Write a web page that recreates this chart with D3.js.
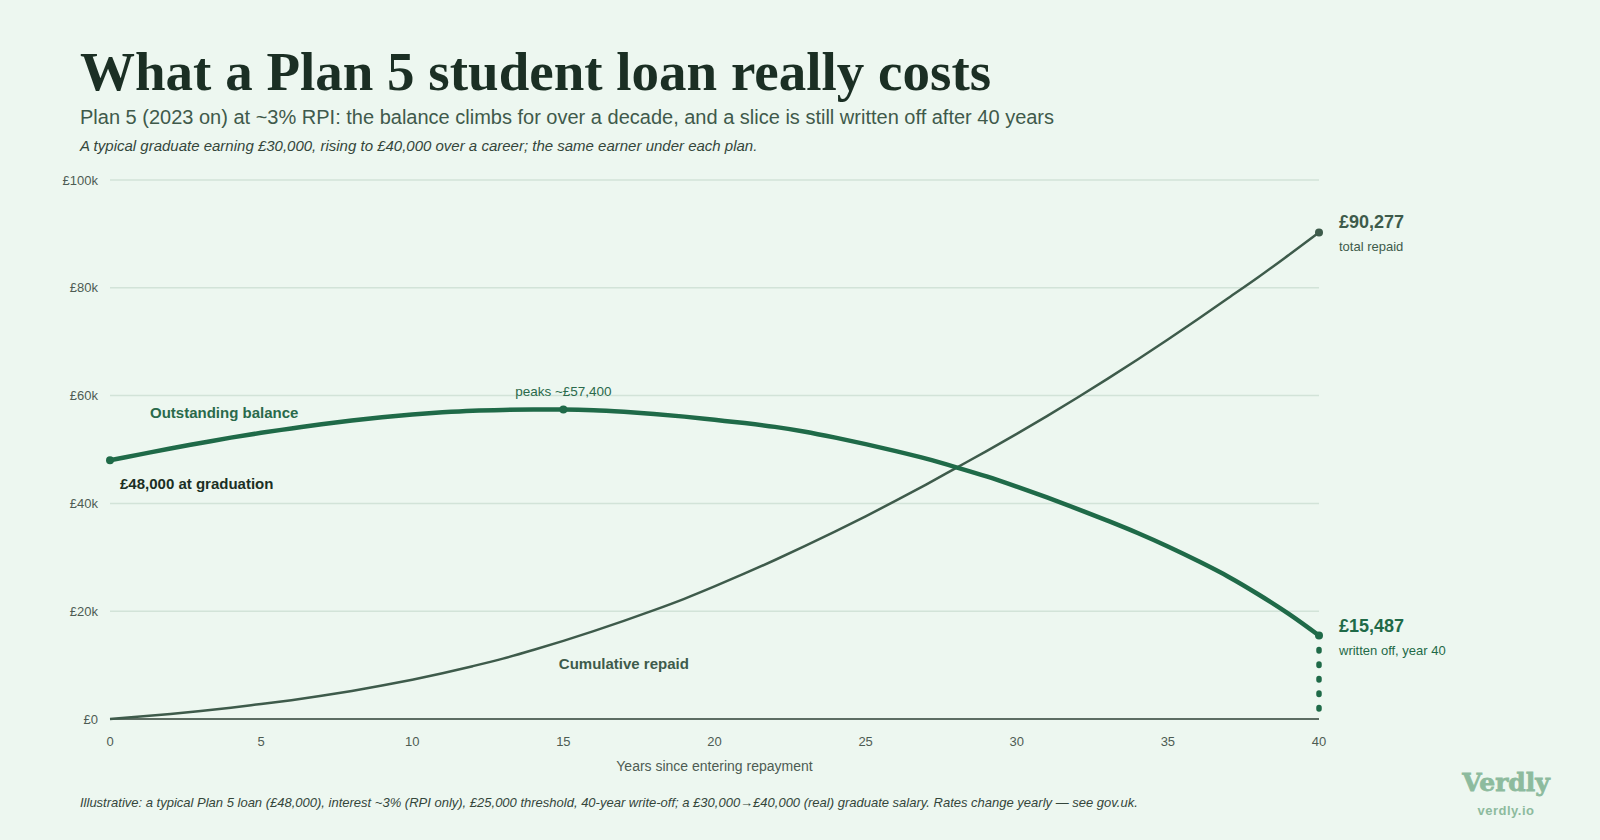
<!DOCTYPE html>
<html lang="en">
<head>
    <meta charset="UTF-8">
    <title>What a Plan 5 student loan really costs</title>
    <script src="https://d3js.org/d3.v7.min.js"></script>
    <style>
        body {
            margin: 0;
            background-color: #edf7f0;
        }
        svg text {
            font-family: "Liberation Sans", Arial, sans-serif;
        }
        .grid line {
            stroke: #d2e3d8;
            stroke-width: 1.5px;
        }
        .tick-label {
            font-size: 13px;
            fill: #4d5c53;
        }
    </style>
</head>
<body>
    <svg id="chart" width="1600" height="840"></svg>
    <script>
        // Years since entering repayment
        const years = d3.range(0, 41);

        // Outstanding balance (£k)
        const balance = [
            48.0, 49.1, 50.2, 51.2, 52.2, 53.1, 53.9, 54.7, 55.4, 56.0,
            56.5, 56.9, 57.2, 57.35, 57.4, 57.4, 57.3, 57.0, 56.6, 56.1,
            55.5, 54.9, 54.2, 53.3, 52.2, 51.0, 49.7, 48.3, 46.7, 45.0,
            43.1, 41.1, 39.0, 36.8, 34.5, 32.0, 29.3, 26.4, 23.1, 19.5,
            15.487
        ];

        // Cumulative repaid (£k)
        const repaid = [
            0, 0.45, 0.95, 1.5, 2.1, 2.8, 3.5, 4.3, 5.2, 6.2,
            7.3, 8.5, 9.8, 11.2, 12.8, 14.5, 16.3, 18.2, 20.2, 22.3,
            24.6, 27.0, 29.5, 32.1, 34.8, 37.6, 40.5, 43.5, 46.6, 49.7,
            52.9, 56.2, 59.6, 63.1, 66.7, 70.4, 74.2, 78.1, 82.0, 86.1,
            90.277
        ];

        const yTicks = [0, 20, 40, 60, 80, 100];
        const yTickLabels = ["£0", "£20k", "£40k", "£60k", "£80k", "£100k"];
        const xTicks = [0, 5, 10, 15, 20, 25, 30, 35, 40];

        const peakYear = 15;

        const width = 1600;
        const margin = { left: 110, right: 281, top: 180, bottom: 121 };
        const height = 840;

        const svg = d3.select("#chart");

        const x = d3.scaleLinear().domain([0, 40]).range([margin.left, width - margin.right]);
        const y = d3.scaleLinear().domain([0, 100]).range([height - margin.bottom, margin.top]);

        const ink = "#1b2f24";
        const green = "#1f6a48";
        const slate = "#3e5b4b";

        // Title block
        svg.append("text")
            .attr("x", 80).attr("y", 90)
            .style("font-family", "'Liberation Serif', 'DejaVu Serif', serif")
            .style("font-weight", "bold")
            .style("font-size", "55px")
            .style("fill", ink)
            .text("What a Plan 5 student loan really costs");

        svg.append("text")
            .attr("x", 80).attr("y", 124)
            .style("font-size", "20px")
            .style("fill", "#3f5a4b")
            .text("Plan 5 (2023 on) at ~3% RPI: the balance climbs for over a decade, and a slice is still written off after 40 years");

        svg.append("text")
            .attr("x", 80).attr("y", 151)
            .style("font-size", "15px")
            .style("font-style", "italic")
            .style("fill", "#34463b")
            .text("A typical graduate earning £30,000, rising to £40,000 over a career; the same earner under each plan.");

        // Gridlines
        const grid = svg.append("g").attr("class", "grid");
        grid.selectAll("line")
            .data(yTicks.filter(d => d > 0))
            .enter()
            .append("line")
            .attr("x1", x(0)).attr("x2", x(40))
            .attr("y1", d => y(d)).attr("y2", d => y(d));

        // Y axis labels
        svg.selectAll(".ylab")
            .data(yTicks)
            .enter()
            .append("text")
            .attr("class", "tick-label")
            .attr("x", x(0) - 12)
            .attr("y", d => y(d) + 4.5)
            .attr("text-anchor", "end")
            .text((d, i) => yTickLabels[i]);

        // Baseline
        svg.append("line")
            .attr("x1", x(0)).attr("x2", x(40))
            .attr("y1", y(0)).attr("y2", y(0))
            .attr("stroke", "#5d6d63")
            .attr("stroke-width", 2);

        // X axis labels
        svg.selectAll(".xlab")
            .data(xTicks)
            .enter()
            .append("text")
            .attr("class", "tick-label")
            .attr("x", d => x(d))
            .attr("y", y(0) + 27)
            .attr("text-anchor", "middle")
            .text(d => d);

        svg.append("text")
            .attr("x", (x(0) + x(40)) / 2)
            .attr("y", y(0) + 52)
            .attr("text-anchor", "middle")
            .style("font-size", "14px")
            .style("fill", "#4d5c53")
            .text("Years since entering repayment");

        const line = d3.line()
            .x(d => x(d[0]))
            .y(d => y(d[1]))
            .curve(d3.curveMonotoneX);

        const repaidPts = years.map((yr, i) => [yr, repaid[i]]);
        const balancePts = years.map((yr, i) => [yr, balance[i]]);

        // Write-off dotted drop
        svg.append("line")
            .attr("x1", x(40)).attr("x2", x(40))
            .attr("y1", y(balance[40]) + 14)
            .attr("y2", y(0) - 8)
            .attr("stroke", green)
            .attr("stroke-width", 5.5)
            .attr("stroke-linecap", "round")
            .attr("stroke-dasharray", "1.5 13");

        // Cumulative repaid line
        svg.append("path")
            .datum(repaidPts)
            .attr("d", line)
            .attr("fill", "none")
            .attr("stroke", slate)
            .attr("stroke-width", 2.5);

        // Outstanding balance line
        svg.append("path")
            .datum(balancePts)
            .attr("d", line)
            .attr("fill", "none")
            .attr("stroke", green)
            .attr("stroke-width", 4.5)
            .attr("stroke-linecap", "round");

        // Markers
        const markers = [
            { yr: 0, v: balance[0], c: green },
            { yr: peakYear, v: balance[peakYear], c: green },
            { yr: 40, v: balance[40], c: green },
            { yr: 40, v: repaid[40], c: slate }
        ];
        svg.selectAll(".marker")
            .data(markers)
            .enter()
            .append("circle")
            .attr("cx", d => x(d.yr))
            .attr("cy", d => y(d.v))
            .attr("r", 4)
            .attr("fill", d => d.c);

        // Annotations
        svg.append("text")
            .attr("x", x(0) + 40).attr("y", 418)
            .style("font-size", "15px").style("font-weight", "bold")
            .style("fill", "#2a6a4b")
            .text("Outstanding balance");

        svg.append("text")
            .attr("x", x(0) + 10).attr("y", 489)
            .style("font-size", "15px").style("font-weight", "bold")
            .style("fill", ink)
            .text("£48,000 at graduation");

        svg.append("text")
            .attr("x", x(peakYear)).attr("y", y(balance[peakYear]) - 14)
            .attr("text-anchor", "middle")
            .style("font-size", "13.5px")
            .style("fill", "#2a6a4b")
            .text("peaks ~£57,400");

        svg.append("text")
            .attr("x", x(17)).attr("y", 669)
            .attr("text-anchor", "middle")
            .style("font-size", "15px").style("font-weight", "bold")
            .style("fill", slate)
            .text("Cumulative repaid");

        // End labels
        svg.append("text")
            .attr("x", x(40) + 20).attr("y", y(repaid[40]) - 4)
            .style("font-size", "18px").style("font-weight", "bold")
            .style("fill", slate)
            .text("£90,277");
        svg.append("text")
            .attr("x", x(40) + 20).attr("y", y(repaid[40]) + 19)
            .style("font-size", "13px")
            .style("fill", slate)
            .text("total repaid");

        svg.append("text")
            .attr("x", x(40) + 20).attr("y", y(balance[40]) - 4)
            .style("font-size", "18px").style("font-weight", "bold")
            .style("fill", green)
            .text("£15,487");
        svg.append("text")
            .attr("x", x(40) + 20).attr("y", y(balance[40]) + 19)
            .style("font-size", "13px")
            .style("fill", green)
            .text("written off, year 40");

        // Footer
        svg.append("text")
            .attr("x", 80).attr("y", 807)
            .style("font-size", "13px")
            .style("font-style", "italic")
            .style("fill", "#34463b")
            .text("Illustrative: a typical Plan 5 loan (£48,000), interest ~3% (RPI only), £25,000 threshold, 40-year write-off; a £30,000→£40,000 (real) graduate salary. Rates change yearly — see gov.uk.");

        // Brand
        svg.append("text")
            .attr("x", 1506).attr("y", 791)
            .attr("text-anchor", "middle")
            .style("font-family", "'DejaVu Serif', serif")
            .style("font-weight", "bold")
            .style("font-size", "25px")
            .style("fill", "#8dbb9e")
            .style("stroke", "#8dbb9e")
            .style("stroke-width", "0.8px")
            .text("Verdly");
        svg.append("text")
            .attr("x", 1506).attr("y", 815)
            .attr("text-anchor", "middle")
            .style("font-size", "13px")
            .style("font-weight", "bold")
            .style("letter-spacing", "0.5px")
            .style("fill", "#8dbb9e")
            .text("verdly.io");
    </script>
</body>
</html>
